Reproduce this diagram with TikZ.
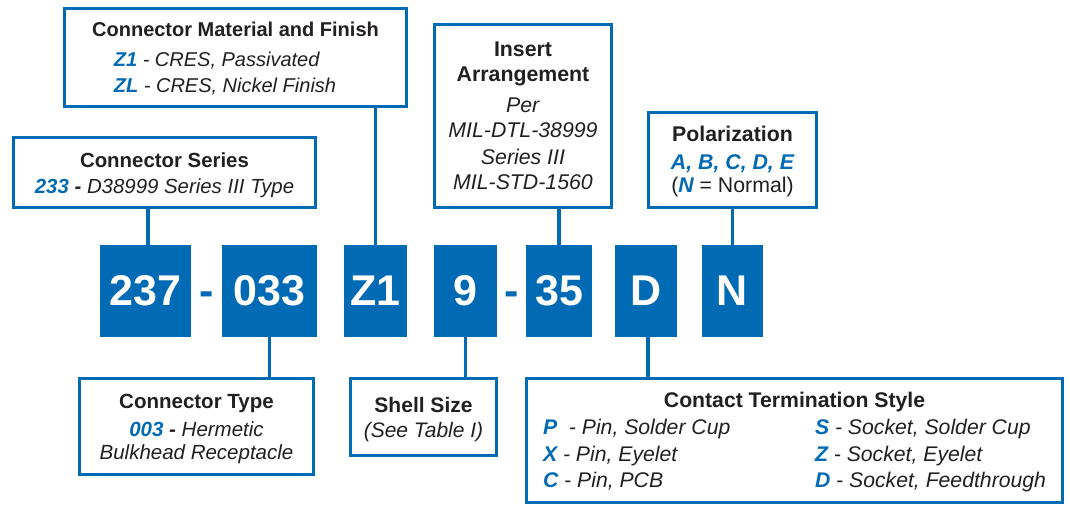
\documentclass[tikz,border=0pt]{standalone}
\usepackage{fontspec}
\setmainfont{Liberation Sans}
\usetikzlibrary{positioning,calc}
\definecolor{partblue}{RGB}{0,106,180}
\definecolor{inkgray}{RGB}{35,31,32}
\newcommand{\partcode}[1]{\textcolor{partblue}{\bfseries\itshape #1}}
\newcommand{\firstline}{\rule{0pt}{22pt}}
\newcommand{\lastline}{\rule[-7pt]{0pt}{0pt}}

\begin{document}
\begin{tikzpicture}[x=1pt, y=1pt, outer sep=0pt,
    codebox/.style={fill=partblue, text=white, font=\fontsize{43}{43}\selectfont\bfseries, minimum height=92pt, minimum width=#1, inner sep=0pt},
    dashsign/.style={text=partblue, font=\fontsize{43}{43}\selectfont\bfseries, inner sep=0pt, anchor=base},
    infobox/.style={draw=partblue, line width=3.3pt, fill=white, text=inkgray, align=center, font=\fontsize{#1}{26}\selectfont, inner sep=0pt},
    infobox/.default=20,
    link/.style={draw=partblue, line width=3.3pt}]
    \useasboundingbox (0,0) rectangle (1070,-508);

    \node[codebox=91pt] (c237) at (145.5,-291) {237};
    \node[codebox=95pt] (c033) [right=31pt of c237] {033};
    \node[codebox=63pt] (cZ1) [right=27pt of c033] {Z1};
    \node[codebox=63pt] (c9) [right=27pt of cZ1] {9};
    \node[codebox=66pt] (c35) [right=29pt of c9] {35};
    \node[codebox=62pt] (cD) [right=23pt of c35] {D};
    \node[codebox=61pt] (cN) [right=25pt of cD] {N};
    \node[dashsign] (dash1) at ($(c237.base east)!0.5!(c033.base west)$) {-};
    \node[dashsign] (dash2) at ($(c9.base east)!0.5!(c35.base west)$) {-};

    \node[infobox=20.4, minimum width=301.6pt, minimum height=69.6pt] (series) [above=37.7pt of c237, xshift=19pt]
        {\firstline\textbf{Connector Series}\\
         \textit{\partcode{233} \textbf{-} D38999 Series III Type}\lastline};
    \node[infobox, minimum width=341.7pt, minimum height=97.7pt] (finish) [above=138.7pt of cZ1, xshift=-140pt]
        {\firstline\textbf{Connector Material and Finish}\\[4pt]
         \begin{tabular}[t]{@{}l@{\hspace{21pt}}}
         \itshape\partcode{Z1} - CRES, Passivated\\
         \itshape\partcode{ZL} - CRES, Nickel Finish
         \end{tabular}\lastline};
    \node[infobox=21.3, minimum width=177pt, minimum height=182.7pt] (insert) [above=37.7pt of c35, xshift=-36pt]
        {\firstline\textbf{Insert}\\[-1pt]\textbf{Arrangement}\\[5pt]
         \textit{Per}\\[-1pt]\textit{MIL-DTL-38999}\\[1pt]\textit{Series III}\\[-1pt]\textit{MIL-STD-1560}\lastline};
    \node[infobox=21.3, minimum width=167.7pt, minimum height=94.7pt] (polar) [above=37.7pt of cN]
        {\firstline\textbf{Polarization}\\[2pt]
         \partcode{A, B, C, D, E}\\[-3pt]
         (\partcode{N} = Normal)\lastline};

    \node[infobox=20.5, minimum width=233.7pt, minimum height=95.7pt] (ctype) [below=41.65pt of c033, xshift=-73pt]
        {\firstline\textbf{Connector Type}\\[2pt]
         \textit{\partcode{003} \textbf{-} Hermetic}\\[-3pt]
         \textit{Bulkhead Receptacle}\lastline};
    \node[infobox=21, minimum width=145.7pt, minimum height=76.7pt] (shell) [below=41.65pt of c9, xshift=-42pt]
        {\firstline\textbf{Shell Size}\\[-1pt]
         \textit{(See Table I)}\lastline};
    \node[infobox=21.2, minimum width=535.7pt, minimum height=123.7pt] (contact) [below=41.65pt of cD, xshift=148.5pt]
        {\firstline\textbf{Contact Termination Style}\\[1pt]
         \begin{tabular}[t]{@{}p{272pt}@{}l@{}}
         \itshape\partcode{P}\ \ - Pin, Solder Cup & \itshape\partcode{S} - Socket, Solder Cup\\[0.5pt]
         \itshape\partcode{X} - Pin, Eyelet & \itshape\partcode{Z} - Socket, Eyelet\\[0.5pt]
         \itshape\partcode{C} - Pin, PCB & \itshape\partcode{D} - Socket, Feedthrough
         \end{tabular}\lastline};

    \draw[link] ([xshift=2.5pt]c237.north) -- ([xshift=2.5pt]c237.north |- series.south);
    \draw[link] (cZ1.north) -- (cZ1.north |- finish.south);
    \draw[link] (c35.north) -- (c35.north |- insert.south);
    \draw[link] (cN.north) -- (cN.north |- polar.south);
    \draw[link] (c033.south) -- (c033.south |- ctype.north);
    \draw[link] (c9.south) -- (c9.south |- shell.north);
    \draw[link] ([xshift=2pt]cD.south) -- ([xshift=2pt]cD.south |- contact.north);
\end{tikzpicture}
\end{document}
